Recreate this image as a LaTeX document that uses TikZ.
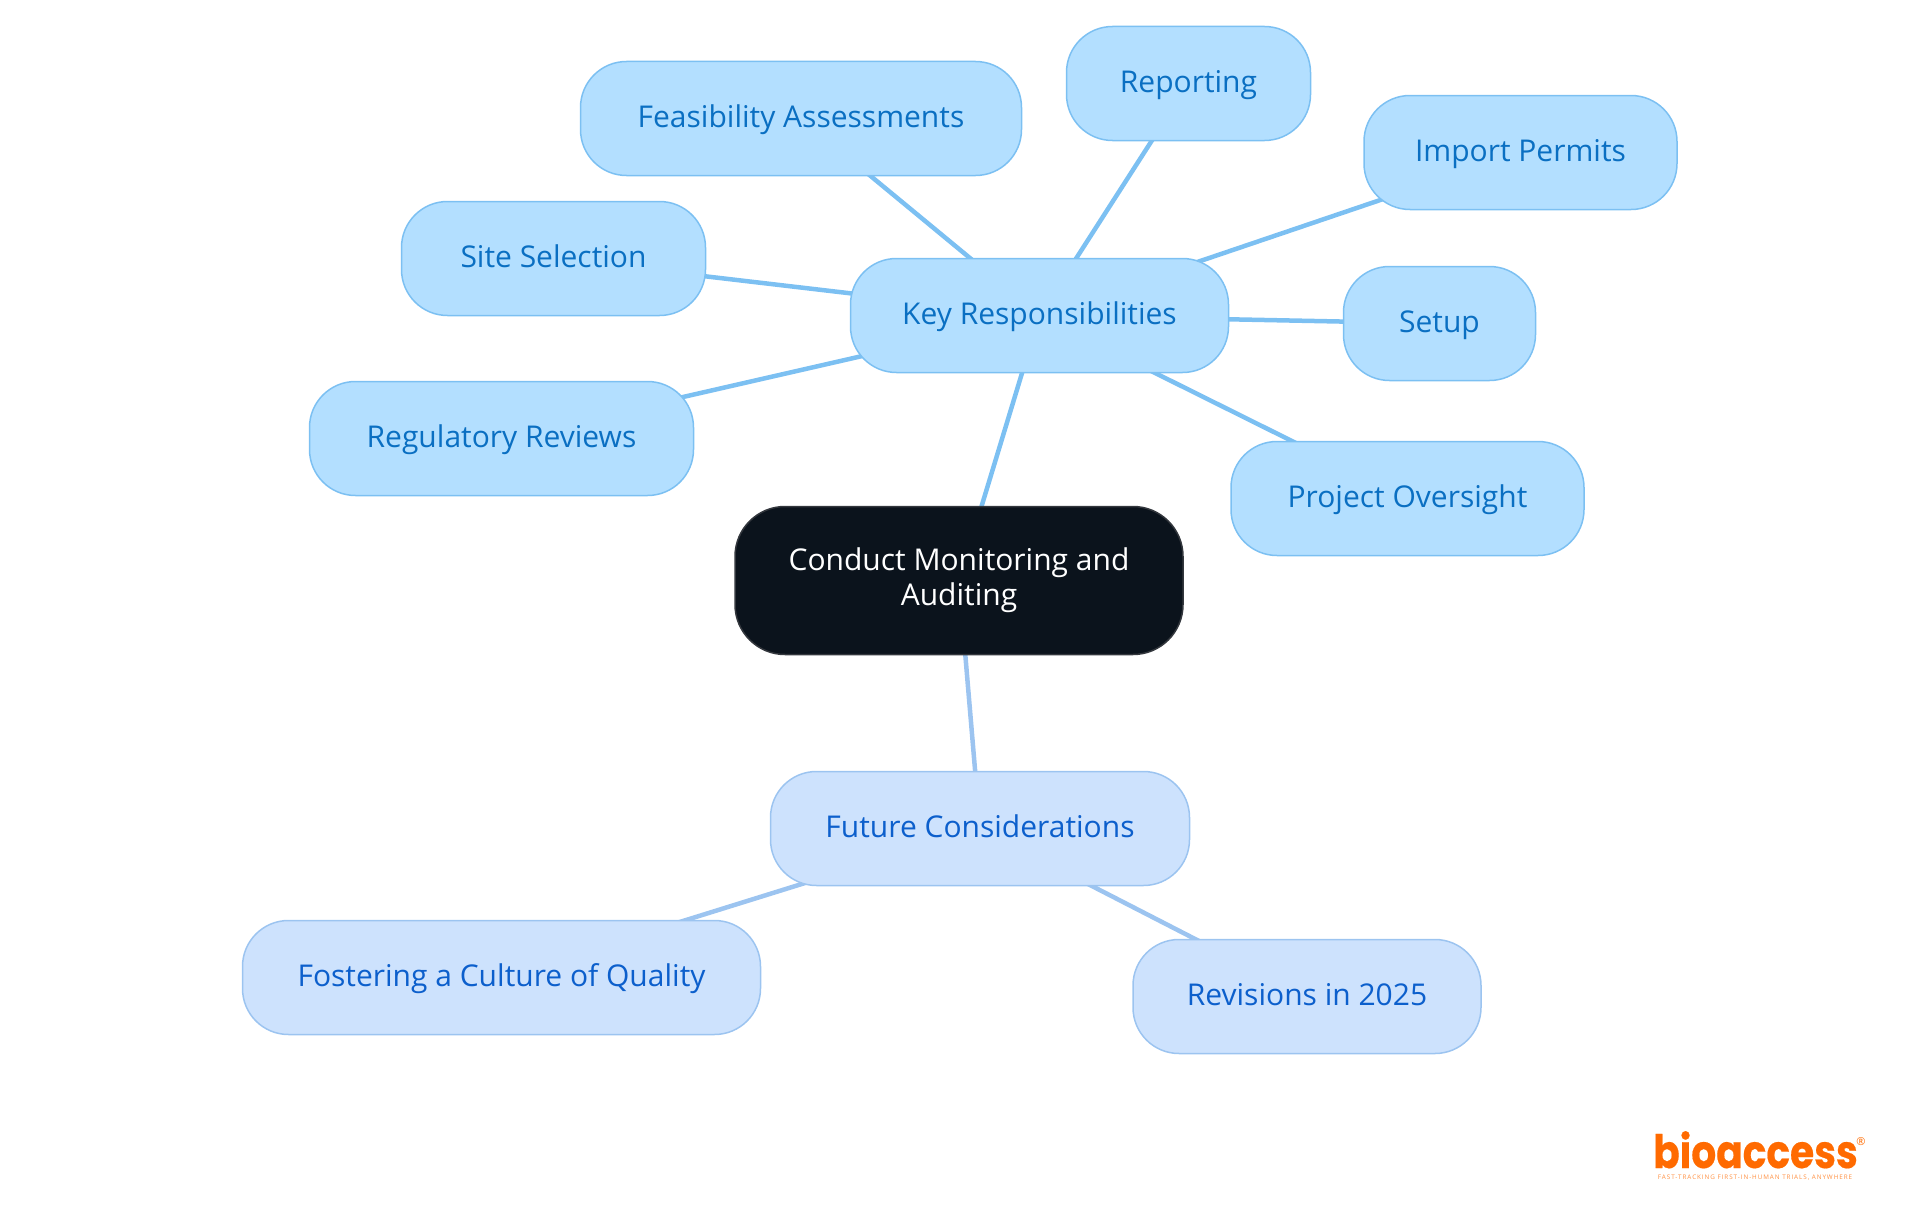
\documentclass[tikz,border=0pt]{standalone}
\usepackage{fontspec}
\setmainfont{Open Sans}
\newfontfamily\logofont[FakeStretch=0.85, FakeBold=0.4]{Poppins}
\newfontfamily\tagfont[LetterSpace=15]{Open Sans}
\usetikzlibrary{backgrounds}
\definecolor{bluefill}{HTML}{B3DFFF}
\definecolor{blueline}{HTML}{7CC0F2}
\definecolor{bluetext}{HTML}{0A6FC2}
\definecolor{palefill}{HTML}{CDE2FD}
\definecolor{paleline}{HTML}{9CC4F0}
\definecolor{paletext}{HTML}{0C5FCC}
\definecolor{darkfill}{HTML}{0B131C}
\definecolor{darkline}{HTML}{33373D}
\definecolor{logoorange}{HTML}{FF6A00}
\tikzset{
    leaf/.style={draw=blueline, fill=bluefill, text=bluetext, line width=1.5pt, rounded corners=46pt, minimum height=114pt, inner sep=0pt, text height=20pt, text depth=2pt, font=\fontsize{30}{34}\selectfont},
    paleleaf/.style={leaf, draw=paleline, fill=palefill, text=paletext},
    rootnode/.style={draw=darkline, fill=darkfill, text=white, line width=1.5pt, rounded corners=50pt, minimum height=148pt, inner sep=0pt, align=center, font=\fontsize{30}{35}\selectfont},
    link/.style={draw=blueline, line width=4.5pt},
    palelink/.style={draw=paleline, line width=4.5pt},
}
\begin{document}
\begin{tikzpicture}[x=1pt, y=-1pt]
    \useasboundingbox (0, 0) rectangle (1920, 1215);
    \node[rootnode, minimum width=448pt] (root) at (959, 580.5) {Conduct Monitoring and\\Auditing};
    \node[leaf, minimum width=378pt] (key) at (1039.5, 315.5) {Key Responsibilities};
    \node[leaf, minimum width=441pt] (feas) at (801, 118.5) {Feasibility Assessments};
    \node[leaf, minimum width=244pt] (rep) at (1188.5, 83.5) {Reporting};
    \node[leaf, minimum width=313pt] (imp) at (1520.5, 152.5) {Import Permits};
    \node[leaf, minimum width=304pt] (site) at (553.5, 258.5) {Site Selection};
    \node[leaf, minimum width=192pt] (setup) at (1439.5, 323.5) {Setup};
    \node[leaf, minimum width=384pt] (reg) at (501.5, 438.5) {Regulatory Reviews};
    \node[leaf, minimum width=353pt] (proj) at (1407.5, 498.5) {Project Oversight};
    \node[paleleaf, minimum width=419pt] (fut) at (980, 828.5) {Future Considerations};
    \node[paleleaf, minimum width=518pt] (fost) at (501.5, 977.5) {Fostering a Culture of Quality};
    \node[paleleaf, minimum width=348pt] (rev) at (1307, 996.5) {Revisions in 2025};
    \begin{pgfonlayer}{background}
        \draw[link] (root.center) -- (key.center);
        \draw[link] (key.center) -- (feas.center);
        \draw[link] (key.center) -- (rep.center);
        \draw[link] (key.center) -- (imp.center);
        \draw[link] (key.center) -- (site.center);
        \draw[link] (key.center) -- (setup.center);
        \draw[link] (key.center) -- (reg.center);
        \draw[link] (key.center) -- (proj.center);
        \draw[palelink] (root.center) -- (fut.center);
        \draw[palelink] (fut.center) -- (fost.center);
        \draw[palelink] (fut.center) -- (rev.center);
    \end{pgfonlayer}
    % logo
    \node[inner sep=0pt, text=logoorange, anchor=base west, font=\logofont\bfseries\fontsize{46}{46}\selectfont] (logo) at (1653, 1168) {bioaccess};
    \node[inner sep=0pt, text=logoorange, font=\fontsize{11}{11}\selectfont] (mark) at (1861, 1142) {®};
    \node[inner sep=0pt, text=logoorange!75, font=\tagfont\fontsize{6.3}{7}\selectfont] (tag) at (1755, 1178) {FAST-TRACKING FIRST-IN-HUMAN TRIALS, ANYWHERE};
\end{tikzpicture}
\end{document}
